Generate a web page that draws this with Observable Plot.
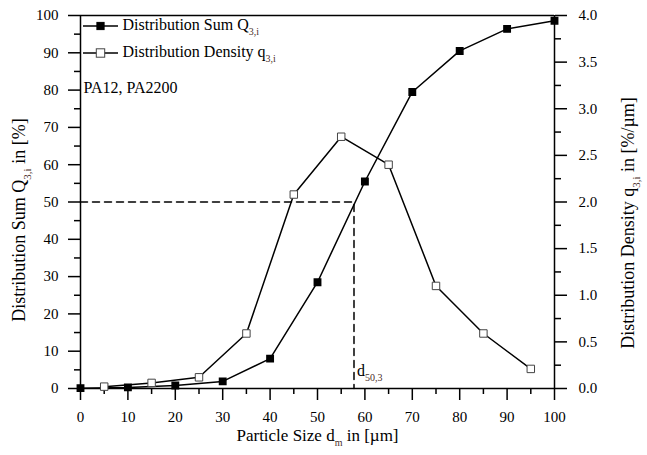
<!DOCTYPE html>
<html><head><meta charset="utf-8">
<script src="https://cdn.jsdelivr.net/npm/d3@7"></script>
<script src="https://cdn.jsdelivr.net/npm/@observablehq/plot@0.6"></script>
<style>
body{margin:0;background:#fff}
#chart svg, #chart svg text, #chart svg g{font-family:"Liberation Serif","Times New Roman",serif !important}
#chart svg{overflow:visible}
</style>
</head><body><div id="chart"></div>
<script>
// Distribution sum Q3,i (%), left axis
const sumSizes = [0, 10, 20, 30, 40, 50, 60, 70, 80, 90, 100];
const sumValues = [0.1, 0.3, 0.8, 1.9, 8.0, 28.5, 55.5, 79.5, 90.5, 96.4, 98.6];
// Distribution density q3,i (%/µm), right axis
const densSizes = [5, 15, 25, 35, 45, 55, 65, 75, 85, 95];
const densValues = [0.02, 0.06, 0.12, 0.59, 2.08, 2.70, 2.40, 1.10, 0.59, 0.21];
// ticks
const xTicks = [0, 10, 20, 30, 40, 50, 60, 70, 80, 90, 100];
const xMinor = [5, 15, 25, 35, 45, 55, 65, 75, 85, 95];
const leftTicks = [0, 10, 20, 30, 40, 50, 60, 70, 80, 90, 100];
const leftMinor = [5, 15, 25, 35, 45, 55, 65, 75, 85, 95];
const rightTicks = [0, 0.5, 1.0, 1.5, 2.0, 2.5, 3.0, 3.5, 4.0];
const rightMinor = [0.25, 0.75, 1.25, 1.75, 2.25, 2.75, 3.25, 3.75];
// d50,3 marker
const d50 = 57.7;
const d50Level = 50;
// texts
const labelX = "Particle Size d_{m} in [µm]";
const labelLeft = "Distribution Sum Q_{3,i} in [%]";
const labelRight = "Distribution Density q_{3,i} in [%/µm]";
const legendSum = "Distribution Sum Q_{3,i}";
const legendDens = "Distribution Density q_{3,i}";
const noteText = "PA12, PA2200";
const d50Text = "d_{50,3}";

const k = 25; // right-axis factor (4.0 -> 100)
const sum = sumSizes.map((x, i) => ({x, y: sumValues[i]}));
const dens = densSizes.map((x, i) => ({x, y: densValues[i] * k}));
const dashed = [{x: 0, y: d50Level}, {x: d50, y: d50Level}, {x: d50, y: 0}];
const serif = "Liberation Serif";

const chart = Plot.plot({
  width: 647, height: 455,
  marginLeft: 80, marginRight: 93, marginTop: 15, marginBottom: 67,
  style: {fontSize: "15px", color: "#000", background: "#fff"},
  x: {domain: [0, 100]},
  y: {domain: [0, 100]},
  marks: [
    Plot.ruleY([100], {stroke: "#000", strokeWidth: 1.5}),
    Plot.ruleY([0], {stroke: "#000", strokeWidth: 1.5}),
    Plot.ruleX([0], {stroke: "#000", strokeWidth: 1.5}),
    Plot.ruleX([100], {stroke: "#000", strokeWidth: 1.5}),
    Plot.axisX(xTicks, {tickSize: 12, tickPadding: 11, strokeWidth: 1.5, fontFamily: serif, fontSize: 15, label: null}),
    Plot.axisX(xMinor, {tickSize: 6, strokeWidth: 1.5, tickFormat: () => "", label: null}),
    Plot.axisY(leftTicks, {anchor: "left", tickSize: 12, tickPadding: 10, strokeWidth: 1.5, fontFamily: serif, fontSize: 15, label: null}),
    Plot.axisY(leftMinor, {anchor: "left", tickSize: 6, strokeWidth: 1.5, tickFormat: () => "", label: null}),
    Plot.axisY(rightTicks.map(v => v * k), {anchor: "right", tickSize: 12, tickPadding: 12, strokeWidth: 1.5, fontFamily: serif, fontSize: 15, tickFormat: d => (d / k).toFixed(1), label: null}),
    Plot.axisY(rightMinor.map(v => v * k), {anchor: "right", tickSize: 6, strokeWidth: 1.5, tickFormat: () => "", label: null}),
    Plot.line(dashed, {x: "x", y: "y", stroke: "#000", strokeWidth: 1.5, strokeDasharray: "7,5"}),
    Plot.line(sum, {x: "x", y: "y", stroke: "#000", strokeWidth: 1.5}),
    Plot.line(dens, {x: "x", y: "y", stroke: "#000", strokeWidth: 1.5}),
    Plot.dot(sum, {x: "x", y: "y", symbol: "square", fill: "#000", stroke: "#000", r: 3.6}),
    Plot.dot(dens, {x: "x", y: "y", symbol: "square", fill: "#fff", stroke: "#444", strokeWidth: 1, r: 4.2}),
    // axis titles
    Plot.text([labelX], {frameAnchor: "bottom", dy: 52, fontSize: 17, textAnchor: "middle", text: d => d}),
    Plot.text([labelLeft], {frameAnchor: "left", dx: -61, dy: 18, rotate: -90, fontSize: 18, textAnchor: "middle", text: d => d}),
    Plot.text([labelRight], {frameAnchor: "right", dx: 74, dy: 21, rotate: -90, fontSize: 18, textAnchor: "middle", text: d => d}),
    // legend
    Plot.text([legendSum], {frameAnchor: "top-left", dx: 42, dy: 3, fontSize: 16, textAnchor: "start", text: d => d}),
    Plot.text([legendDens], {frameAnchor: "top-left", dx: 42, dy: 30, fontSize: 16, textAnchor: "start", text: d => d}),
    Plot.text([noteText], {frameAnchor: "top-left", dx: 3, dy: 66, fontSize: 16, textAnchor: "start", text: d => d}),
    Plot.text([d50Text], {x: [d50], y: [0], dx: 3, dy: -18, fontSize: 16, textAnchor: "start", text: d => d})
  ]
});
document.getElementById("chart").appendChild(chart);

const svg = d3.select(chart);
const xs = chart.scale("x"), ys = chart.scale("y");
const frameLeft = xs.apply(0), frameTop = ys.apply(100);
[["#000", "#000", 3.6, 11], ["#fff", "#444", 4.2, 38]].forEach(([fill, st, r, yy]) => {
  const g = svg.append("g");
  g.append("line").attr("x1", frameLeft + 3).attr("x2", frameLeft + 38).attr("y1", frameTop + yy).attr("y2", frameTop + yy)
    .attr("stroke", "#000").attr("stroke-width", 1.5);
  g.append("rect").attr("x", frameLeft + 20.5 - r).attr("y", frameTop + yy - r).attr("width", 2 * r).attr("height", 2 * r)
    .attr("fill", fill).attr("stroke", st);
});

// subscripts: convert "_{...}" into smaller lowered tspans
svg.selectAll("text").each(function() {
  const el = this;
  const txt = el.textContent;
  if (!txt.includes("_{")) return;
  while (el.firstChild) el.removeChild(el.firstChild);
  const fs = parseFloat(getComputedStyle(el).fontSize) || 15;
  const parts = txt.split(/(_\{[^}]*\})/);
  let lowered = false;
  parts.forEach(p => {
    if (!p) return;
    const ts = document.createElementNS("http://www.w3.org/2000/svg", "tspan");
    if (p.startsWith("_{")) {
      ts.textContent = p.slice(2, -1);
      ts.setAttribute("font-size", Math.round(fs * 0.6));
      ts.setAttribute("dy", (fs * 0.32).toFixed(1));
      ts.setAttribute("fill", "#4a2e28");
      lowered = true;
    } else {
      ts.textContent = p;
      if (lowered) { ts.setAttribute("dy", (-fs * 0.32).toFixed(1)); lowered = false; }
    }
    el.appendChild(ts);
  });
});
svg.selectAll("text, tspan").style("font-family", '"Liberation Serif", "Times New Roman", serif');
</script>
</body></html>
